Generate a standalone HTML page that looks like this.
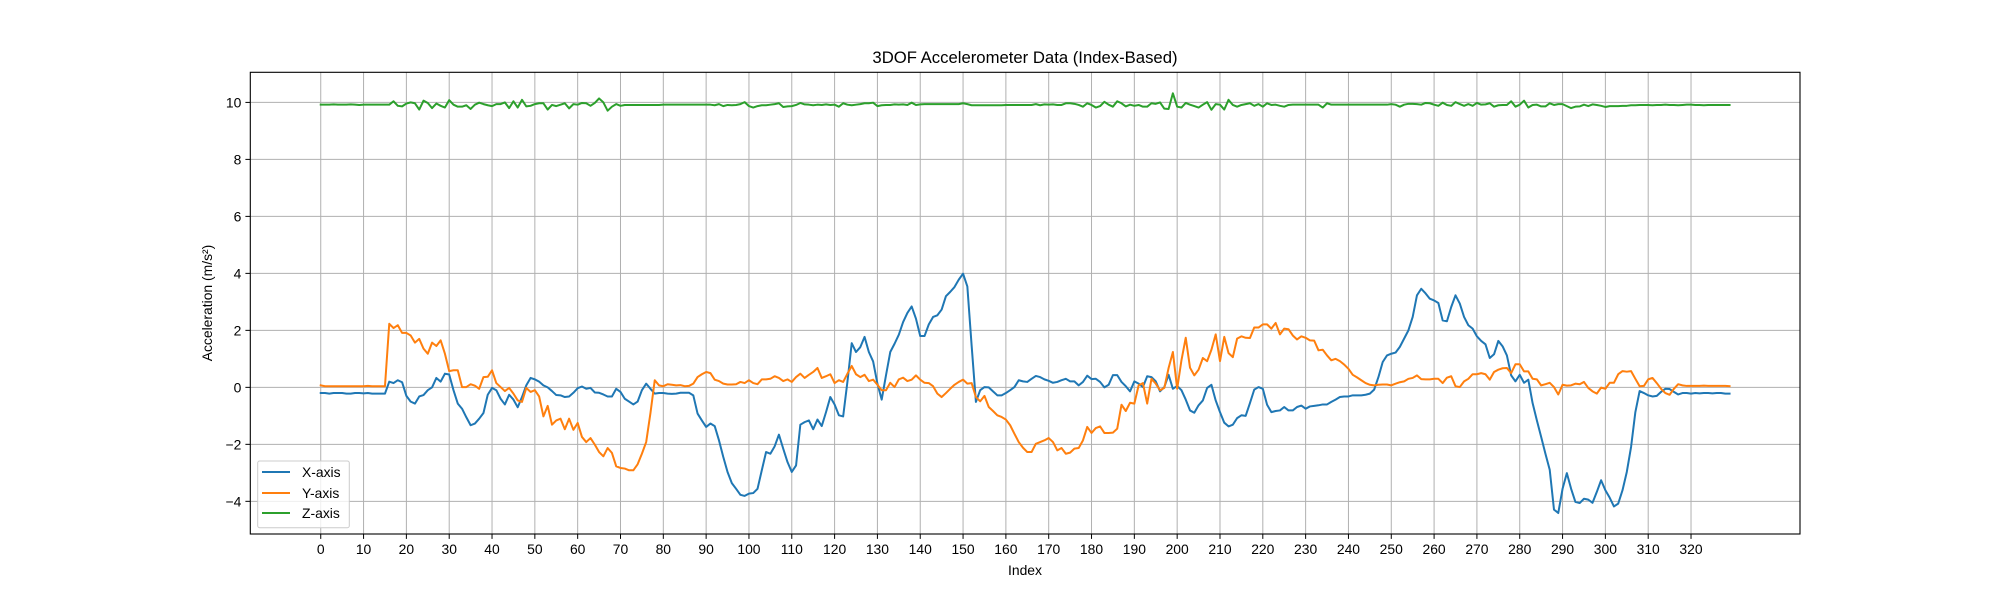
<!DOCTYPE html>
<html><head><meta charset="utf-8"><style>
html,body{margin:0;padding:0;background:#fff;}
svg{display:block;font-family:"Liberation Sans","DejaVu Sans",sans-serif;}
</style></head><body>
<svg id="chart" width="2000" height="600" viewBox="0 0 2000 600">
<rect width="2000" height="600" fill="#fff"/>
<g id="grid"></g>
<g id="series"></g>
<rect x="250.3" y="72.3" width="1549.7" height="461.7" fill="none" stroke="#000" stroke-width="1.1"/>
<g id="ticks"></g>
<text x="1025" y="63" text-anchor="middle" font-size="16.7" fill="#000">3DOF Accelerometer Data (Index-Based)</text>
<text x="1025" y="575" text-anchor="middle" font-size="13.9" fill="#000">Index</text>
<text transform="translate(212,303) rotate(-90)" text-anchor="middle" font-size="13.9" fill="#000">Acceleration (m/s²)</text>
<g>
<rect x="257.7" y="461" width="91.6" height="66.7" rx="2" fill="#fff" fill-opacity="0.8" stroke="#ccc"/>
<line x1="262" y1="472" x2="290" y2="472" stroke="#1f77b4" stroke-width="2"/>
<text x="302" y="477" font-size="13.9">X-axis</text>
<line x1="262" y1="493" x2="290" y2="493" stroke="#ff7f0e" stroke-width="2"/>
<text x="302" y="498" font-size="13.9">Y-axis</text>
<line x1="262" y1="513" x2="290" y2="513" stroke="#2ca02c" stroke-width="2"/>
<text x="302" y="518" font-size="13.9">Z-axis</text>
</g>
</svg>
<script>
const xTicks = [0,10,20,30,40,50,60,70,80,90,100,110,120,130,140,150,160,170,180,190,200,210,220,230,240,250,260,270,280,290,300,310,320];
const yTicks = [-4,-2,0,2,4,6,8,10];
const yTickLabels = ["\u22124","\u22122","0","2","4","6","8","10"];
const xSeries = [-0.2,-0.2,-0.22,-0.2,-0.2,-0.2,-0.22,-0.22,-0.2,-0.2,-0.21,-0.2,-0.22,-0.22,-0.22,-0.22,0.2,0.15,0.25,0.18,
-0.3,-0.5,-0.57,-0.32,-0.27,-0.1,0.0,0.33,0.2,0.48,0.45,-0.1,-0.57,-0.75,-1.05,-1.33,-1.27,-1.1,-0.9,-0.26,
-0.02,-0.1,-0.4,-0.6,-0.26,-0.43,-0.7,-0.34,0.07,0.33,0.28,0.2,0.07,0.0,-0.13,-0.27,-0.28,-0.34,-0.32,-0.19,
-0.03,0.03,-0.05,-0.02,-0.18,-0.19,-0.25,-0.32,-0.32,-0.05,-0.16,-0.4,-0.5,-0.6,-0.5,-0.1,0.13,-0.05,-0.22,-0.2,
-0.2,-0.22,-0.23,-0.22,-0.19,-0.19,-0.19,-0.28,-0.92,-1.16,-1.39,-1.27,-1.36,-1.86,-2.44,-2.97,-3.36,-3.56,-3.77,-3.81,
-3.73,-3.71,-3.56,-2.91,-2.27,-2.33,-2.07,-1.66,-2.15,-2.62,-2.97,-2.74,-1.31,-1.22,-1.16,-1.47,-1.13,-1.36,-0.87,-0.34,
-0.6,-0.98,-1.02,0.2,1.55,1.24,1.41,1.77,1.24,0.91,0.13,-0.43,0.42,1.24,1.53,1.85,2.29,2.61,2.84,2.41,
1.8,1.8,2.21,2.47,2.53,2.73,3.2,3.35,3.52,3.78,3.99,3.54,1.47,-0.51,-0.1,0.01,0.0,-0.14,-0.28,-0.28,
-0.2,-0.1,0.01,0.25,0.21,0.19,0.3,0.4,0.36,0.28,0.23,0.16,0.19,0.25,0.3,0.21,0.21,0.07,0.19,0.41,
0.29,0.3,0.19,0.0,0.09,0.43,0.43,0.19,0.04,-0.14,0.21,0.13,0.01,0.39,0.36,0.21,-0.14,0.01,0.44,-0.05,
0.05,-0.1,-0.43,-0.81,-0.89,-0.63,-0.46,-0.02,0.09,-0.46,-0.87,-1.24,-1.37,-1.31,-1.08,-0.98,-1.0,-0.55,-0.08,0.01,
-0.05,-0.61,-0.87,-0.83,-0.81,-0.69,-0.81,-0.81,-0.69,-0.64,-0.75,-0.67,-0.65,-0.63,-0.6,-0.6,-0.51,-0.43,-0.34,-0.32,
-0.32,-0.28,-0.28,-0.28,-0.26,-0.22,-0.08,0.36,0.89,1.12,1.18,1.22,1.42,1.71,2.0,2.47,3.23,3.46,3.3,3.11,
3.05,2.96,2.35,2.32,2.82,3.23,2.94,2.47,2.18,2.06,1.79,1.63,1.51,1.03,1.16,1.63,1.44,1.12,0.42,0.21,
0.44,0.16,0.27,-0.55,-1.16,-1.74,-2.33,-2.89,-4.29,-4.41,-3.56,-3.01,-3.56,-4.02,-4.06,-3.91,-3.94,-4.05,-3.67,-3.26,
-3.61,-3.87,-4.18,-4.08,-3.61,-2.97,-2.09,-0.87,-0.13,-0.2,-0.28,-0.32,-0.3,-0.16,-0.05,-0.06,-0.16,-0.25,-0.2,-0.2,
-0.22,-0.2,-0.21,-0.2,-0.2,-0.21,-0.2,-0.2,-0.22,-0.22];
const ySeries = [0.07,0.04,0.04,0.04,0.04,0.04,0.04,0.04,0.04,0.04,0.04,0.05,0.04,0.04,0.04,0.04,2.23,2.08,2.18,1.91,
1.91,1.82,1.57,1.7,1.36,1.18,1.57,1.45,1.65,1.18,0.57,0.6,0.6,0.01,0.01,0.11,0.06,-0.05,0.36,0.37,
0.6,0.15,0.01,-0.13,-0.02,-0.22,-0.46,-0.51,-0.02,-0.16,-0.1,-0.32,-1.02,-0.65,-1.31,-1.16,-1.1,-1.47,-1.1,-1.49,
-1.25,-1.74,-1.92,-1.78,-2.01,-2.27,-2.42,-2.13,-2.3,-2.77,-2.83,-2.85,-2.91,-2.91,-2.7,-2.33,-1.92,-0.9,0.25,0.07,
0.04,0.11,0.09,0.07,0.08,0.04,0.05,0.13,0.36,0.46,0.54,0.5,0.27,0.22,0.13,0.1,0.1,0.11,0.19,0.15,
0.25,0.15,0.11,0.28,0.28,0.3,0.39,0.33,0.22,0.28,0.19,0.36,0.48,0.33,0.44,0.54,0.68,0.33,0.39,0.46,
0.15,0.25,0.19,0.48,0.75,0.46,0.36,0.44,0.22,0.27,0.09,-0.1,-0.1,0.16,0.01,0.28,0.34,0.22,0.27,0.42,
0.27,0.16,0.15,0.04,-0.22,-0.34,-0.2,-0.05,0.09,0.19,0.27,0.13,0.15,-0.34,-0.49,-0.3,-0.69,-0.83,-0.98,-1.04,
-1.13,-1.33,-1.63,-1.92,-2.12,-2.27,-2.27,-1.98,-1.92,-1.86,-1.78,-1.92,-2.21,-2.13,-2.33,-2.29,-2.15,-2.13,-1.86,-1.39,
-1.6,-1.43,-1.37,-1.6,-1.6,-1.59,-1.45,-0.61,-0.83,-0.54,-0.57,0.07,0.15,-0.57,0.3,0.13,-0.1,-0.02,0.68,1.24,
-0.05,0.95,1.74,0.69,0.42,0.62,1.03,0.92,1.32,1.86,0.92,1.77,1.2,1.06,1.71,1.79,1.74,1.73,2.1,2.1,
2.21,2.21,2.06,2.26,1.86,2.06,2.04,1.82,1.68,1.79,1.74,1.65,1.64,1.3,1.32,1.12,0.95,1.0,0.92,0.8,
0.65,0.44,0.35,0.25,0.15,0.09,0.07,0.09,0.1,0.1,0.07,0.13,0.18,0.21,0.3,0.33,0.42,0.29,0.28,0.28,
0.3,0.3,0.15,0.34,0.39,0.04,0.01,0.21,0.3,0.46,0.46,0.5,0.46,0.27,0.54,0.62,0.67,0.68,0.5,0.81,
0.81,0.56,0.56,0.3,0.28,0.07,0.11,0.16,0.01,-0.25,0.09,0.06,0.07,0.13,0.11,0.19,-0.02,-0.14,-0.22,-0.01,
-0.05,0.16,0.16,0.46,0.57,0.55,0.57,0.3,0.04,0.05,0.28,0.33,0.15,-0.05,-0.2,-0.26,-0.05,0.11,0.07,0.05,
0.05,0.05,0.05,0.06,0.05,0.05,0.05,0.05,0.05,0.04];
const zSeries = [9.92,9.92,9.92,9.93,9.92,9.92,9.92,9.93,9.92,9.91,9.92,9.92,9.92,9.92,9.92,9.92,9.92,10.04,9.88,9.86,
9.96,10.0,9.97,9.75,10.06,9.98,9.8,9.96,9.88,9.82,10.08,9.92,9.85,9.85,9.9,9.77,9.92,9.99,9.94,9.9,
9.87,9.94,9.94,10.0,9.8,10.04,9.82,10.09,9.86,9.88,9.94,9.97,9.97,9.75,9.91,9.87,9.92,9.97,9.79,9.94,
9.92,9.98,9.97,9.88,9.98,10.14,10.0,9.71,9.85,9.94,9.88,9.91,9.91,9.91,9.91,9.91,9.91,9.91,9.91,9.91,
9.92,9.92,9.92,9.92,9.92,9.92,9.92,9.92,9.92,9.92,9.92,9.92,9.9,9.94,9.87,9.91,9.9,9.91,9.94,10.01,
9.87,9.82,9.87,9.9,9.9,9.92,9.94,9.97,9.84,9.86,9.87,9.91,9.98,9.93,9.92,9.9,9.92,9.91,9.93,9.91,
9.92,9.85,9.97,9.92,9.9,9.92,9.94,9.97,9.97,9.99,9.87,9.9,9.91,9.91,9.93,9.92,9.93,9.91,9.99,9.91,
9.93,9.94,9.94,9.94,9.94,9.94,9.94,9.94,9.94,9.94,9.97,9.94,9.9,9.9,9.9,9.9,9.9,9.9,9.9,9.9,
9.91,9.91,9.91,9.91,9.91,9.91,9.91,9.94,9.9,9.93,9.92,9.93,9.91,9.91,9.97,9.97,9.95,9.91,9.85,9.97,
9.91,9.82,9.87,10.02,9.92,9.85,10.04,9.97,9.86,9.92,9.88,9.91,9.85,9.85,9.97,9.95,10.0,9.78,9.77,10.32,
9.85,9.82,9.98,9.92,9.87,9.82,9.92,10.01,9.74,9.94,9.92,9.75,10.09,9.91,9.85,9.91,9.94,9.97,9.88,9.94,
9.85,9.97,9.91,9.92,9.88,9.85,9.91,9.92,9.92,9.92,9.92,9.92,9.92,9.92,9.82,9.97,9.92,9.92,9.92,9.92,
9.92,9.92,9.92,9.92,9.92,9.92,9.92,9.92,9.92,9.92,9.94,9.92,9.85,9.92,9.95,9.95,9.94,9.92,9.98,9.97,
9.92,9.88,9.99,9.91,9.88,10.01,9.94,9.88,9.94,9.88,9.98,9.92,9.93,9.97,9.85,9.9,9.91,9.91,10.04,9.85,
9.92,10.06,9.82,9.91,9.92,9.86,9.86,9.97,9.91,9.94,9.94,9.87,9.8,9.85,9.86,9.92,9.87,9.93,9.91,9.88,
9.84,9.87,9.87,9.87,9.88,9.88,9.9,9.9,9.91,9.91,9.91,9.9,9.91,9.91,9.92,9.91,9.91,9.9,9.91,9.92,
9.92,9.91,9.91,9.9,9.91,9.91,9.91,9.91,9.91,9.91];

const NS = "http://www.w3.org/2000/svg";
const L = 250.3, R = 1800, T = 72.3, B = 534;
function allVals(){ return xSeries.concat(ySeries, zSeries); }
const n = Math.max(xSeries.length, ySeries.length, zSeries.length);
const xMin = -0.05*(n-1), xMax = (n-1)*1.05;
const vals = allVals();
const dMin = Math.min.apply(null, vals), dMax = Math.max.apply(null, vals);
const yMin = dMin - 0.05*(dMax-dMin), yMax = dMax + 0.05*(dMax-dMin);
function sx(i){ return L + (i - xMin)/(xMax - xMin)*(R - L); }
function sy(v){ return B - (v - yMin)/(yMax - yMin)*(B - T); }

const grid = document.getElementById('grid');
const ticks = document.getElementById('ticks');
function mk(tag, attrs, parent){ const e = document.createElementNS(NS, tag); for (const k in attrs) e.setAttribute(k, attrs[k]); parent.appendChild(e); return e; }

xTicks.forEach(function(t){
  const x = sx(t);
  const g = mk('line', {x1:x, y1:T, x2:x, y2:B, stroke:'#b0b0b0', 'stroke-width':1}, grid);
  
  
  const tk = mk('line', {x1:x, y1:B, x2:x, y2:B+4.9, stroke:'#000', 'stroke-width':1}, ticks);
  
  
  const lb = mk('text', {x:x, y:B+20, 'text-anchor':'middle', 'font-size':13.9}, ticks);
  
  
  lb.textContent = String(t);
});
yTicks.forEach(function(t, k){
  const y = sy(t);
  const g = mk('line', {x1:L, y1:y, x2:R, y2:y, stroke:'#b0b0b0', 'stroke-width':1}, grid);
  
  
  const tk = mk('line', {x1:L-4.9, y1:y, x2:L, y2:y, stroke:'#000', 'stroke-width':1}, ticks);
  
  
  const lb = mk('text', {x:L-9, y:y+5, 'text-anchor':'end', 'font-size':13.9}, ticks);
  
  
  lb.textContent = yTickLabels[k];
});

const seriesG = document.getElementById('series');
function drawLine(arr, color, name){
  const pts = arr.map(function(v, i){ return sx(i).toFixed(2) + ',' + sy(v).toFixed(2); }).join(' ');
  const p = mk('polyline', {points:pts, fill:'none', stroke:color, 'stroke-width':2, 'stroke-linejoin':'round', 'stroke-linecap':'square'}, seriesG);
  
  
}
drawLine(xSeries, '#1f77b4', 'x-axis-line');
drawLine(ySeries, '#ff7f0e', 'y-axis-line');
drawLine(zSeries, '#2ca02c', 'z-axis-line');
</script>
</body></html>
